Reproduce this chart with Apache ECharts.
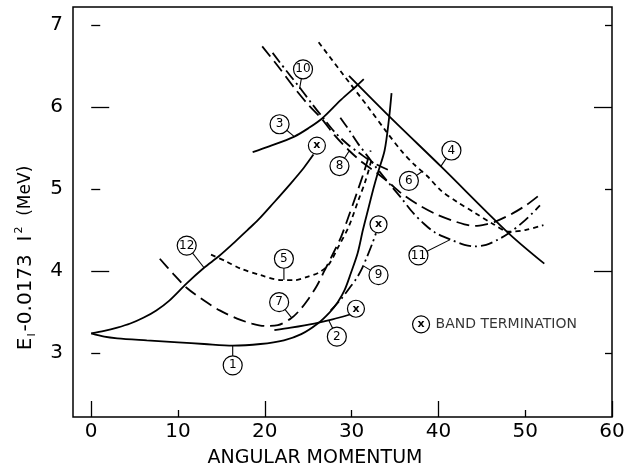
<!DOCTYPE html>
<html>
<head>
<meta charset="utf-8">
<script src="https://cdn.jsdelivr.net/npm/echarts@6/dist/echarts.min.js"></script>
<style>html,body{margin:0;padding:0;background:#fff}#c{width:630px;height:473px}</style>
</head>
<body>
<div id="c"></div>
<script>
// ---- axis ranges / ticks ----
const xTickLabels = [0, 10, 20, 30, 40, 50, 60];
const yTickLabels = [3, 4, 5, 6, 7];

// ---- curves [angular momentum, energy] ----
const curve1 = [[0,3.24],[1.5,3.2],[3,3.18],[6.4,3.155],[10,3.13],[13,3.11],[16.3,3.09],[19.5,3.11],[22.2,3.155],[24.2,3.23],[26.1,3.36],[27.5,3.5],[28.4,3.62],[29.2,3.77],[29.9,3.97],[30.7,4.22],[31.3,4.5],[31.9,4.75],[32.5,5.0],[33,5.19],[33.8,5.47],[34.3,5.85],[34.6,6.17]];
const curve2 = [[21.1,3.28],[23,3.31],[25.7,3.36],[27.8,3.41],[29.8,3.47]];
const curve3 = [[18.6,5.45],[20.5,5.52],[23.4,5.64],[25,5.74],[26.6,5.86],[28.8,6.09],[30.5,6.25],[31.4,6.34]];
const curve4 = [[29.7,6.38],[34.4,5.88],[40.35,5.27],[48.1,4.46],[52.2,4.09]];
const curve5 = [[13.8,4.2],[15.5,4.12],[17.2,4.03],[19.5,3.95],[21.85,3.89],[23.5,3.89],[24.9,3.93],[26.2,3.98],[27.3,4.07],[28.5,4.3],[29.7,4.55],[30.8,4.87],[31.6,5.1],[32.3,5.36]];
const curve6 = [[26.2,6.79],[29,6.4],[31.9,6.0],[34,5.7],[35.7,5.47],[37.2,5.3],[38.8,5.15],[40.3,4.98],[42.2,4.84],[44.2,4.71],[46.2,4.58],[48.1,4.48],[50,4.5],[52.1,4.56]];
const curve7 = [[7.9,4.15],[9.5,3.96],[11.06,3.79],[13,3.64],[14.8,3.52],[16.8,3.42],[18.5,3.36],[20.1,3.33],[21.5,3.34],[23,3.42],[24,3.52],[24.9,3.64],[26,3.82],[26.9,4.01],[27.9,4.22],[28.8,4.42],[29.7,4.68],[30.5,4.92],[31.4,5.2],[32.2,5.47]];
const curve8 = [[19.7,6.74],[21.5,6.5],[23.5,6.22],[25,6.03],[26.6,5.85],[28,5.66],[29.7,5.47],[31.3,5.32],[33,5.19],[34.5,5.06],[35.7,4.95],[37.5,4.82],[39.6,4.7],[41.5,4.62],[43,4.57],[44.2,4.55],[45.5,4.57],[46.5,4.6],[48.5,4.7],[50.2,4.81],[51.8,4.94]];
const curve9 = [[27.6,3.52],[28.8,3.66],[29.8,3.8],[30.5,3.9],[31.1,4.01],[31.8,4.18],[32.4,4.34],[32.8,4.46]];
const curve10 = [[20.9,6.66],[22.5,6.44],[24,6.24],[25.5,6.03],[26.7,5.87],[28,5.7],[29.5,5.55],[31,5.43],[32.5,5.32],[34.5,5.22]];
const curve11 = [[28.7,5.87],[29.7,5.72],[30.7,5.56],[31.7,5.42],[32.7,5.28],[33.7,5.15],[34.7,5.02],[35.8,4.88],[37,4.72],[38.3,4.58],[39.6,4.47],[41.7,4.37],[43,4.32],[44.2,4.3],[45.5,4.32],[46.8,4.38],[48.1,4.46],[50,4.62],[51.7,4.8]];
const curve12 = [[0,3.24],[1.5,3.27],[3,3.31],[4.5,3.36],[6,3.43],[7.5,3.52],[9,3.64],[11,3.85],[13,4.04],[14.7,4.18],[16.5,4.35],[18,4.5],[19.2,4.62],[21,4.83],[23,5.07],[24.5,5.26],[25.6,5.42]];

// ---- curve number labels ----
const labelNames = ['1','2','3','4','5','6','7','8','9','10','11','12'];
const labelPos = [[16.3,2.85],[28.3,3.2],[21.7,5.79],[41.5,5.47],[22.2,4.15],[36.6,5.1],[21.65,3.62],[28.6,5.28],[33.1,3.95],[24.4,6.46],[37.7,4.19],[11.0,4.31]];
const leaderEnd = [[16.3,3.09],[27.4,3.39],[23.4,5.64],[40.3,5.28],[22.2,3.89],[38.2,5.22],[23.1,3.43],[29.7,5.46],[31.4,4.06],[24.0,6.22],[41.3,4.38],[13.0,4.04]];

// ---- band terminations ----
const termPos = [[26.0,5.53],[30.5,3.54],[33.1,4.57]];
const legendPos = [38.0,3.35];
const legendText = 'BAND TERMINATION';

const FONT = 'DejaVu Sans';
const SOLID = 'solid';
const SHORT = [5,4];
const LONG = [13,6];
const DASHDOT = [12,4,2,4];

const curves = [
  [curve1, SOLID],[curve2, SOLID],[curve3, SOLID],[curve4, SOLID],
  [curve5, SHORT],[curve6, SHORT],[curve7, LONG],[curve8, LONG],
  [curve9, DASHDOT],[curve10, DASHDOT],[curve11, DASHDOT],[curve12, SOLID]
];

const series = [];
curves.forEach(([d, t]) => {
  series.push({type:'line', data:d, showSymbol:false, smooth:0.3, silent:true, z:2,
    lineStyle:{color:'#000', width:1.8, type:t}});
});
labelPos.forEach((p, i) => {
  series.push({type:'line', data:[p, leaderEnd[i]], showSymbol:false, silent:true, z:3,
    lineStyle:{color:'#000', width:1.1}});
});
series.push({type:'scatter', z:5, silent:true, symbol:'circle', symbolSize:19,
  itemStyle:{color:'#fff', borderColor:'#000', borderWidth:1.2, opacity:1},
  label:{show:true, position:'inside', formatter:'{b}', fontFamily:FONT, fontSize:12, color:'#000'},
  data: labelPos.map((p,i)=>({name:labelNames[i], value:p}))});
series.push({type:'scatter', z:5, silent:true, symbol:'circle', symbolSize:17,
  itemStyle:{color:'#fff', borderColor:'#000', borderWidth:1.2, opacity:1},
  label:{show:true, position:'inside', formatter:'x', fontFamily:FONT, fontSize:11, fontWeight:'bold', color:'#000', padding:[0,0,2,0]},
  data: termPos.concat([legendPos]).map(p=>({value:p}))});
series.push({type:'scatter', z:6, silent:true, symbol:'circle', symbolSize:17,
  itemStyle:{color:'rgba(0,0,0,0)', borderWidth:0},
  label:{show:true, position:'right', distance:6, formatter:legendText, fontFamily:FONT, fontSize:14, color:'#000'},
  data:[{value:legendPos}]});

const X0 = -2.1, X1 = 60, Y0 = 2.22, Y1 = 7.22;
const baseX = {type:'value', min:X0, max:X1, position:'bottom', splitLine:{show:false}, axisLine:{show:false}};
const baseY = {type:'value', min:Y0, max:Y1, splitLine:{show:false}, axisLine:{show:false}};
const tk = (vals, len) => ({show:true, inside:true, length:len, customValues:vals, lineStyle:{color:'#000', width:1.3}});

const option = {
  animation:false,
  backgroundColor:'#fff',
  grid:{left:73, right:18, top:7, bottom:56, show:true, borderColor:'#000', borderWidth:1.5, backgroundColor:'transparent'},
  xAxis:[
    Object.assign({}, baseX, {axisTick:tk([0,20,40,60],16), axisLabel:{show:true, customValues:xTickLabels, margin:5, fontFamily:FONT, fontSize:20, color:'#000'}}),
    Object.assign({}, baseX, {axisTick:tk([10,30,50],7), axisLabel:{show:false}})
  ],
  yAxis:[
    Object.assign({}, baseY, {position:'left', axisTick:tk([4,6],18), axisLabel:{show:true, customValues:yTickLabels, margin:10, fontFamily:FONT, fontSize:20, color:'#000'}}),
    Object.assign({}, baseY, {position:'left', axisTick:tk([3,5,7],9), axisLabel:{show:false}}),
    Object.assign({}, baseY, {position:'right', axisTick:tk([4,6],18), axisLabel:{show:false}}),
    Object.assign({}, baseY, {position:'right', axisTick:tk([3,5,7],7), axisLabel:{show:false}})
  ],
  graphic:[
    {type:'text', left:'center', top:449, silent:true,
      style:{text:'ANGULAR MOMENTUM', fontFamily:FONT, fontSize:19, fill:'#000'}},
    {type:'text', x:26, y:258, rotation:Math.PI/2, silent:true,
      style:{text:'{b|E}{s|I}{b|-0.0173  I}{p|2}{m|  (MeV)}', align:'center', verticalAlign:'middle',
        rich:{
          b:{fontFamily:FONT, fontSize:20, fill:'#000', lineHeight:24},
          s:{fontFamily:FONT, fontSize:11, fill:'#000', verticalAlign:'bottom', lineHeight:24, padding:[8,2,0,1]},
          p:{fontFamily:FONT, fontSize:11, fill:'#000', verticalAlign:'top', lineHeight:24, padding:[0,0,10,2]},
          m:{fontFamily:FONT, fontSize:17, fill:'#000', lineHeight:24}
        }}}
  ],
  series: series.map(s => Object.assign({xAxisIndex:0, yAxisIndex:0}, s))
};

const chart = echarts.init(document.getElementById('c'), null, {renderer:'canvas'});
chart.setOption(option);
</script>
</body>
</html>
